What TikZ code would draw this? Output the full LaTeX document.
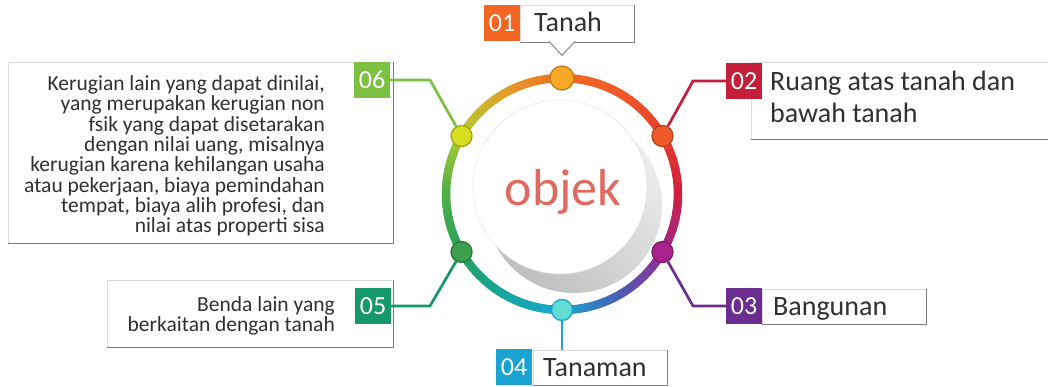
\documentclass[tikz,border=0pt]{standalone}
\usepackage{fontspec}
\setmainfont{Carlito}
\definecolor{r0}{HTML}{F26A22}
\definecolor{r1}{HTML}{F0592A}
\definecolor{r2}{HTML}{E6402E}
\definecolor{r3}{HTML}{D01E3E}
\definecolor{r4}{HTML}{9A2A90}
\definecolor{r5}{HTML}{4A5CB4}
\definecolor{r6}{HTML}{1BA6D0}
\definecolor{r7}{HTML}{16A6A0}
\definecolor{r8}{HTML}{25A05E}
\definecolor{r9}{HTML}{4FB046}
\definecolor{r10}{HTML}{ADCB35}
\definecolor{r11}{HTML}{E0A02A}
\definecolor{d1}{HTML}{F9A825}
\definecolor{d2}{HTML}{F05A28}
\definecolor{d3}{HTML}{A8238C}
\definecolor{d4}{HTML}{60DCD4}
\definecolor{d5}{HTML}{3E9F4E}
\definecolor{d6}{HTML}{D6DC1E}
\definecolor{n1}{HTML}{F26522}
\definecolor{n2}{HTML}{C41E3A}
\definecolor{n3}{HTML}{6C2D91}
\definecolor{n4}{HTML}{1AA3D1}
\definecolor{n5}{HTML}{16996A}
\definecolor{n6}{HTML}{7DC143}
\definecolor{objred}{HTML}{E06A60}
\definecolor{txt}{HTML}{303030}
\tikzset{
	ringdot/.style={circle, draw=#1!75!black, fill=#1, line width=1.3, minimum size=21, inner sep=0},
	numbox/.style={fill=#1, text=white, minimum size=36, inner sep=0, font=\fontsize{26}{26}\selectfont},
	txtbox/.style={draw=black!15, fill=white, inner sep=0, anchor=north west},
	link/.style={draw=#1, line width=2.7},
	bigtxt/.style={font=\fontsize{28}{32}\selectfont, text=txt, inner sep=0},
	smalltxt/.style={font=\fontsize{21.5}{20.3}\selectfont, text=txt, inner sep=0, align=right}
}
\begin{document}
\begin{tikzpicture}[x=1pt,y=-1pt]
	\useasboundingbox (0,0) rectangle (1048,387);
	\fill[white] (0,0) rectangle (1048,387);
	\coordinate (M) at (562,194);
	\node[txtbox, minimum width=114, minimum height=37] (B1) at (520,5) {};
	\node[txtbox, minimum width=301, minimum height=77] (B2) at (751,62) {};
	\node[txtbox, minimum width=164, minimum height=35] (B3) at (762,289) {};
	\node[txtbox, minimum width=134, minimum height=35] (B4) at (533,350) {};
	\node[txtbox, minimum width=286, minimum height=67] (B5) at (107,280) {};
	\node[txtbox, minimum width=385, minimum height=181] (B6) at (8,62) {};
	\foreach \n in {1,...,6}
		\draw[black!50, line width=1.2] (B\n.north east) -- (B\n.south east) -- (B\n.south west);
	\coordinate (P1) at (B1.south -| M);
	\filldraw[fill=white, draw=black!45, line width=1] ([shift={(-13,-1)}]P1) -- ([shift={(0,13)}]P1) -- ([shift={(13,-1)}]P1);
	\shade[left color=gray!15, right color=gray!50, shading angle=-45] ([shift={(12,11)}]M) circle[radius=88];
	\filldraw[fill=white, draw=black!12] ([shift={(-2,-7)}]M) circle[radius=87];
	\foreach \a/\ca/\cb in {-90/r0/r1,-60/r1/r2,-30/r2/r3,0/r3/r4,30/r4/r5,60/r5/r6,90/r6/r7,120/r7/r8,150/r8/r9,180/r9/r10,210/r10/r11,240/r11/r0}
		\foreach \i in {0,...,9}{
			\pgfmathtruncatemacro\p{100-10*\i}
			\draw[\ca!\p!\cb, line width=8.5, line cap=round] ([shift={(\a+3*\i:116)}]M) -- ([shift={(\a+3*\i+3:116)}]M);
		}
	\node[text=objred, font=\fontsize{52}{52}\selectfont] (O) at (563,192) {objek};
	\node[ringdot=d1, minimum size=24] (D1) at ([shift={(-90:116)}]M) {};
	\node[ringdot=d2] (D2) at ([shift={(-30:116)}]M) {};
	\node[ringdot=d3] (D3) at ([shift={(30:116)}]M) {};
	\node[ringdot=d4, draw=n4] (D4) at ([shift={(90:116)}]M) {};
	\node[ringdot=d5] (D5) at ([shift={(150:116)}]M) {};
	\node[ringdot=d6] (D6) at ([shift={(210:116)}]M) {};
	\node[numbox=n1] (N1) at (502,23.5) {01};
	\node[numbox=n2] (N2) at (744,81) {02};
	\node[numbox=n3] (N3) at (744,306) {03};
	\node[numbox=n4] (N4) at (514,367) {04};
	\node[numbox=n5] (N5) at (373,306) {05};
	\node[numbox=n6] (N6) at (372,80) {06};
	\coordinate (K2) at (693,81);
	\coordinate (K3) at (693,306);
	\coordinate (K5) at (430,306);
	\coordinate (K6) at (430,80);
	\draw[link=n2] (D2) -- (K2) -- (N2);
	\draw[link=n3] (D3) -- (K3) -- (N3);
	\draw[link=n4] (D4) -- (D4 |- B4.north);
	\draw[link=n5] (D5) -- (K5) -- (N5);
	\draw[link=n6] (D6) -- (K6) -- (N6);
	\node[bigtxt, anchor=base west] (T1) at (534,32) {Tanah};
	\node[bigtxt, anchor=west, align=left] (T2) at (770,97) {Ruang atas tanah dan\\bawah tanah};
	\node[bigtxt, anchor=base west] (T3) at (773,315) {Bangunan};
	\node[bigtxt, anchor=base west] (T4) at (543,376) {Tanaman};
	\node[smalltxt, anchor=east] (T5) at (335,316) {Benda lain yang\\berkaitan dengan tanah};
	\node[smalltxt, anchor=east] (T6) at (325,156) {Kerugian lain yang dapat dinilai,\\yang merupakan kerugian non\\fsik yang dapat disetarakan\\dengan nilai uang, misalnya\\kerugian karena kehilangan usaha\\atau pekerjaan, biaya pemindahan\\tempat, biaya alih profesi, dan\\nilai atas properti sisa};
\end{tikzpicture}
\end{document}
